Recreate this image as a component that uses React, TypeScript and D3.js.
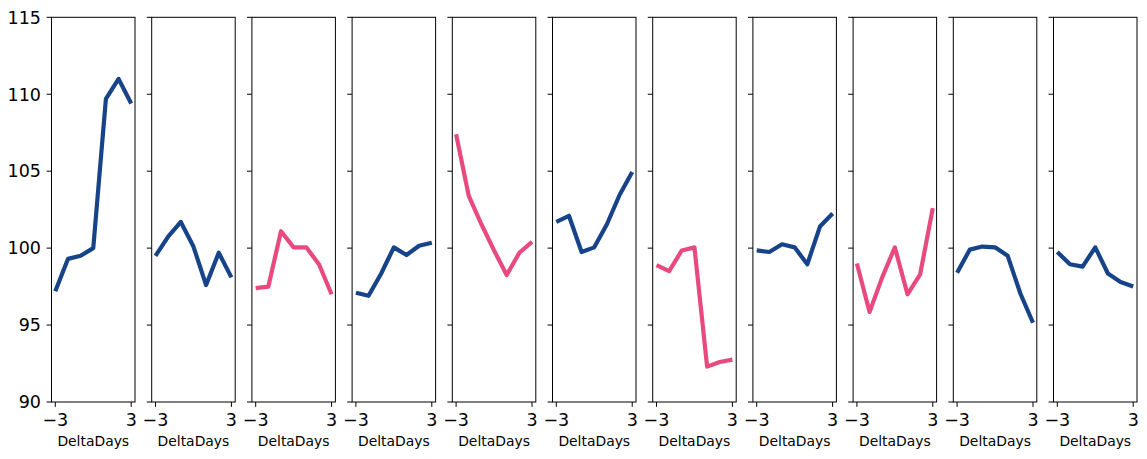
import React from "react";
import * as d3 from "d3";

const deltaDays = [-3, -2, -1, 0, 1, 2, 3];
const yTicks = [90, 95, 100, 105, 110, 115];
const xTicks = [-3, 3];
const xLabel = "DeltaDays";

const series1 = [97.2, 99.3, 99.5, 100.0, 109.7, 111.0, 109.4];
const series2 = [99.5, 100.75, 101.7, 100.1, 97.6, 99.7, 98.1];
const series3 = [97.4, 97.5, 101.1, 100.05, 100.05, 98.95, 97.0];
const series4 = [97.1, 96.9, 98.35, 100.05, 99.55, 100.15, 100.35];
const series5 = [107.4, 103.4, 101.55, 99.85, 98.25, 99.7, 100.4];
const series6 = [101.7, 102.1, 99.75, 100.05, 101.55, 103.45, 104.95];
const series7 = [98.9, 98.5, 99.85, 100.05, 92.3, 92.6, 92.75];
const series8 = [99.85, 99.75, 100.25, 100.05, 98.95, 101.4, 102.25];
const series9 = [99.0, 95.85, 98.1, 100.05, 97.0, 98.3, 102.6];
const series10 = [98.4, 99.9, 100.1, 100.05, 99.5, 97.05, 95.15];
const series11 = [99.75, 98.95, 98.8, 100.05, 98.35, 97.8, 97.5];

const BLUE = "#174389";
const PINK = "#e84a7f";
const seriesColors = [BLUE, BLUE, PINK, BLUE, PINK, BLUE, PINK, BLUE, PINK, BLUE, BLUE];
const allSeries = [series1, series2, series3, series4, series5, series6, series7, series8, series9, series10, series11];

const W = 1147;
const H = 459;
const panelLeft0 = 51.5;
const panelStep = 100.2;
const panelW = 83.5;
const top = 17.3;
const bottom = 402;

export default function App() {
  const y = d3.scaleLinear().domain([90, 115]).range([bottom, top]);
  const x = d3.scaleLinear().domain([-3.3, 3.3]).range([0, panelW]);
  const font = "'DejaVu Sans', sans-serif";
  return (
    <svg width={W} height={H} style={{ position: "absolute", left: 0, top: 0 }}>
      <rect width={W} height={H} fill="#fff" />
      {allSeries.map((s, i) => {
        const left = panelLeft0 + i * panelStep;
        const line = d3
          .line<number>()
          .x((_, j) => x(deltaDays[j]))
          .y((v) => y(v));
        return (
          <g key={i} transform={`translate(${left},0)`}>
            <path d={line(s) || ""} fill="none" stroke={seriesColors[i]} strokeWidth={4.2} strokeLinejoin="round" />
            <rect x={0} y={top} width={panelW} height={bottom - top} fill="none" stroke="#000" strokeWidth={1} />
            {yTicks.map((t) => (
              <g key={t}>
                <line x1={-4.9} x2={0} y1={y(t)} y2={y(t)} stroke="#000" strokeWidth={1} />
                {i === 0 && (
                  <text x={-10.5} y={y(t)} dy="0.36em" textAnchor="end" fontFamily={font} fontSize={17.5} fill="#000">
                    {t}
                  </text>
                )}
              </g>
            ))}
            {xTicks.map((t) => (
              <g key={t}>
                <line x1={x(t)} x2={x(t)} y1={bottom} y2={bottom + 4.9} stroke="#000" strokeWidth={1} />
                <text x={x(t)} y={426} textAnchor="middle" fontFamily={font} fontSize={17.5} fill="#000">
                  {t < 0 ? "\u2212" + Math.abs(t) : String(t)}
                </text>
              </g>
            ))}
            <text x={panelW / 2} y={445.5} textAnchor="middle" fontFamily={font} fontSize={13.9} fill="#000">
              {xLabel}
            </text>
          </g>
        );
      })}
    </svg>
  );
}
